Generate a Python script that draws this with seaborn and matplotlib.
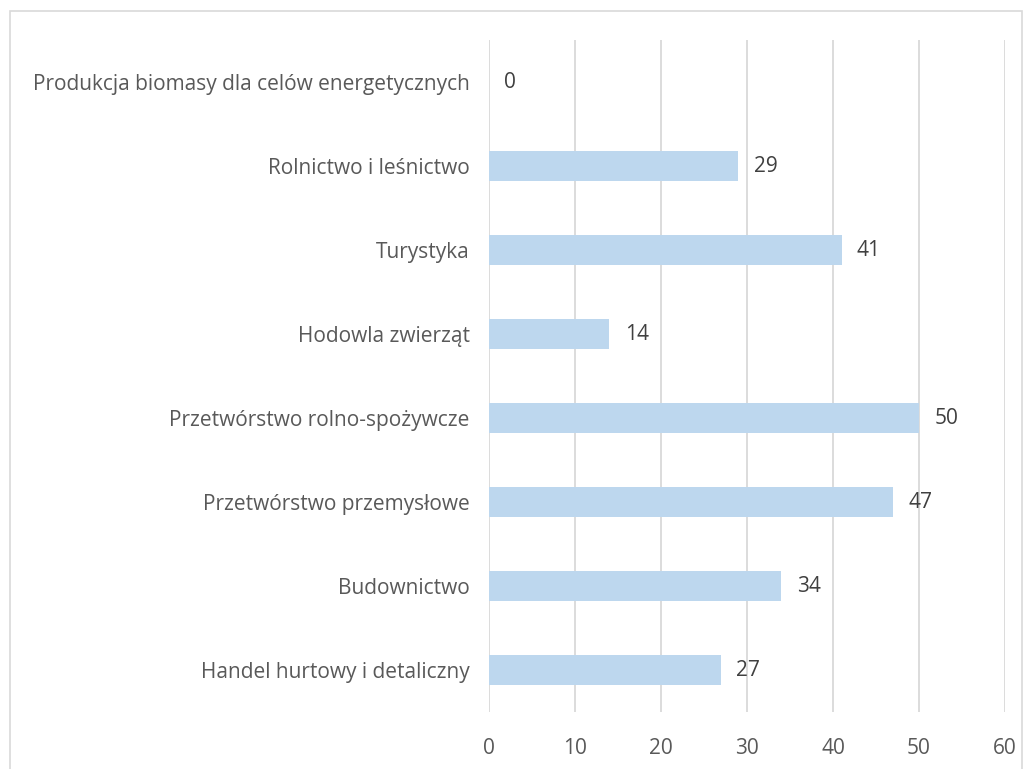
import matplotlib
matplotlib.use("Agg")
import matplotlib.pyplot as plt
import seaborn as sns
import pandas as pd
from matplotlib.patches import Rectangle

categories = [
    "Produkcja biomasy dla celów energetycznych",
    "Rolnictwo i leśnictwo",
    "Turystyka",
    "Hodowla zwierząt",
    "Przetwórstwo rolno-spożywcze",
    "Przetwórstwo przemysłowe",
    "Budownictwo",
    "Handel hurtowy i detaliczny",
]
values = [0, 29, 41, 14, 50, 47, 34, 27]
xticks = [0, 10, 20, 30, 40, 50, 60]

sns.set_theme(style="white")
plt.rcParams['font.family'] = ['Open Sans', 'DejaVu Sans']

df = pd.DataFrame({"cat": categories, "val": values})

fig = plt.figure(figsize=(10.33, 7.69), dpi=100)
ax = fig.add_axes([489/1033, 1 - 712/769, (1005-489)/1033, (712-40)/769])

sns.barplot(data=df, x="val", y="cat", color="#BDD7EE", saturation=1,
            width=0.36, ax=ax, orient="h", linewidth=0)

fs = 15
ax.set_xlim(0, 60)
ax.set_xticks(xticks)
ax.set_xticklabels([str(t) for t in xticks])
ax.xaxis.grid(True, color="#D9D9D9", linewidth=1.3)
ax.set_axisbelow(True)
for s in ax.spines.values():
    s.set_visible(False)
ax.set_xlabel("")
ax.set_ylabel("")
ax.tick_params(axis="x", length=0, pad=19, labelsize=fs, labelcolor="#595959")
ax.tick_params(axis="y", length=0, pad=14, labelsize=fs, labelcolor="#595959")

for i, v in enumerate(values):
    ax.annotate(str(v), xy=(v, i), xytext=(11, 0), textcoords="offset points",
                va="center", ha="left", fontsize=fs, color="#404040")

fig.patches.append(Rectangle((10/1033, -0.01), (1022-10)/1033, 1 - 11/769 + 0.01,
                             transform=fig.transFigure, fill=False,
                             edgecolor="#D9D9D9", linewidth=1.2))

fig.savefig("out.png", dpi=100)
